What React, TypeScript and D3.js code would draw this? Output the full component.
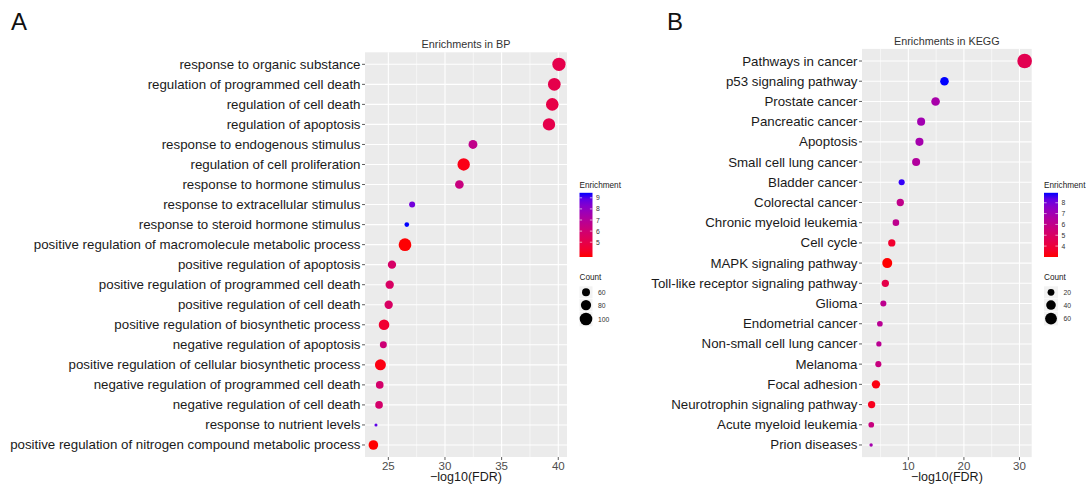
import React from "react";
import * as d3 from "d3";

// ---------- Data: panel A (GO BP) ----------
const bpTerms = [
  "response to organic substance",
  "regulation of programmed cell death",
  "regulation of cell death",
  "regulation of apoptosis",
  "response to endogenous stimulus",
  "regulation of cell proliferation",
  "response to hormone stimulus",
  "response to extracellular stimulus",
  "response to steroid hormone stimulus",
  "positive regulation of macromolecule metabolic process",
  "positive regulation of apoptosis",
  "positive regulation of programmed cell death",
  "positive regulation of cell death",
  "positive regulation of biosynthetic process",
  "negative regulation of apoptosis",
  "positive regulation of cellular biosynthetic process",
  "negative regulation of programmed cell death",
  "negative regulation of cell death",
  "response to nutrient levels",
  "positive regulation of nitrogen compound metabolic process",
];
const bpLog10FDR = [40.06, 39.65, 39.47, 39.18, 32.47, 31.65, 31.27, 27.1, 26.63, 26.47, 25.32, 25.12, 25.03, 24.62, 24.56, 24.3, 24.24, 24.18, 23.91, 23.68];
const bpCount = [106, 101, 100, 98, 68, 98, 66, 43, 31, 101, 63, 63, 63, 83, 51, 86, 57, 57, 17, 74];
const bpEnrichment = [5.0, 5.0, 4.9, 5.0, 6.6, 3.9, 6.3, 8.6, 9.45, 3.7, 5.7, 5.6, 5.6, 4.4, 6.1, 3.85, 5.8, 5.8, 8.9, 3.67];
const bpXTicks = [25, 30, 35, 40];
const bpEnrichBreaks = [5, 6, 7, 8, 9];
const bpCountBreaks = [60, 80, 100];

// ---------- Data: panel B (KEGG) ----------
const keggTerms = [
  "Pathways in cancer",
  "p53 signaling pathway",
  "Prostate cancer",
  "Pancreatic cancer",
  "Apoptosis",
  "Small cell lung cancer",
  "Bladder cancer",
  "Colorectal cancer",
  "Chronic myeloid leukemia",
  "Cell cycle",
  "MAPK signaling pathway",
  "Toll-like receptor signaling pathway",
  "Glioma",
  "Endometrial cancer",
  "Non-small cell lung cancer",
  "Melanoma",
  "Focal adhesion",
  "Neurotrophin signaling pathway",
  "Acute myeloid leukemia",
  "Prion diseases",
];
const keggLog10FDR = [30.93, 16.5, 14.9, 12.3, 12.0, 11.4, 8.8, 8.55, 7.76, 7.02, 6.2, 5.86, 5.5, 4.88, 4.7, 4.6, 4.17, 3.39, 3.33, 3.3];
const keggCount = [92, 32, 32, 28, 28, 28, 16, 23, 19, 23, 43, 23, 16, 14, 12, 16, 30, 23, 14, 5];
const keggEnrichment = [4.5, 8.92, 6.8, 7.0, 6.9, 6.5, 8.75, 6.0, 6.1, 3.7, 2.99, 4.35, 6.1, 6.25, 6.2, 5.7, 3.15, 3.35, 5.7, 6.9];
const keggXTicks = [10, 20, 30];
const keggEnrichBreaks = [4, 5, 6, 7, 8];
const keggCountBreaks = [20, 40, 60];

const FONT = "'Liberation Sans', Arial, Helvetica, sans-serif";

type PanelCfg = {
  id: string;
  letter: string;
  letterX: number;
  title: string;
  titleY: number;
  terms: string[];
  xs: number[];
  counts: number[];
  enrich: number[];
  xTicks: number[];
  enrichBreaks: number[];
  countBreaks: number[];
  left: number;
  right: number;
  top: number;
  bottom: number;
  xDomain: [number, number];
  enrichDomain: [number, number];
  size: (c: number) => number;
  legX: number;
  barW: number;
};

function Panel({ cfg }: { cfg: PanelCfg }) {
  const x = d3.scaleLinear().domain(cfg.xDomain).range([cfg.left, cfg.right]);
  const y = d3
    .scalePoint<string>()
    .domain(cfg.terms)
    .range([cfg.top, cfg.bottom])
    .padding(0.6);
  const color = d3
    .scaleLinear<string>()
    .domain(cfg.enrichDomain)
    .range(["red", "blue"])
    .interpolate(d3.interpolateLab);

  const majors = cfg.xTicks;
  const minors: number[] = [];
  for (let i = 0; i < majors.length - 1; i++) minors.push((majors[i] + majors[i + 1]) / 2);
  const step = majors[1] - majors[0];
  const lo = majors[0] - step / 2;
  const hi = majors[majors.length - 1] + step / 2;
  if (lo > cfg.xDomain[0]) minors.unshift(lo);
  if (hi < cfg.xDomain[1]) minors.push(hi);

  // legend geometry
  const barTop = 192.8;
  const barBottom = 257;
  const eScale = d3.scaleLinear().domain(cfg.enrichDomain).range([barBottom, barTop]);
  const gradStops = d3.range(0, 1.0001, 0.1);
  const gid = `grad-${cfg.id}`;

  // count keys
  let ky = 286;
  const keys = cfg.countBreaks.map((c) => {
    const r = cfg.size(c);
    const h = Math.max(12.7, 2 * r + 2.5);
    const k = { c, r, cy: ky + h / 2, y0: ky, h };
    ky += h;
    return k;
  });

  const order = cfg.terms.map((_, i) => i);

  return (
    <g>
      <text x={cfg.letterX} y={30} fontSize={24} fontFamily={FONT} fill="#111">
        {cfg.letter}
      </text>
      <text
        x={(cfg.left + cfg.right) / 2}
        y={cfg.titleY}
        textAnchor="middle"
        dominantBaseline="central"
        fontSize={10.8}
        fontFamily={FONT}
        fill="#333"
      >
        {cfg.title}
      </text>
      <rect x={cfg.left} y={cfg.top} width={cfg.right - cfg.left} height={cfg.bottom - cfg.top} fill="#ebebeb" />
      {minors.map((m) => (
        <line key={"mn" + m} x1={x(m)} x2={x(m)} y1={cfg.top} y2={cfg.bottom} stroke="#fff" strokeWidth={0.55} />
      ))}
      {majors.map((m) => (
        <line key={"mj" + m} x1={x(m)} x2={x(m)} y1={cfg.top} y2={cfg.bottom} stroke="#fff" strokeWidth={1.1} />
      ))}
      {cfg.terms.map((t) => (
        <line key={"h" + t} x1={cfg.left} x2={cfg.right} y1={y(t)} y2={y(t)} stroke="#fff" strokeWidth={1.1} />
      ))}
      {order.map((i) => (
        <circle
          key={"p" + i}
          cx={x(cfg.xs[i])}
          cy={y(cfg.terms[i])}
          r={Math.max(1.4, cfg.size(cfg.counts[i]))}
          fill={color(cfg.enrich[i])}
        />
      ))}
      {/* y axis */}
      {cfg.terms.map((t) => (
        <g key={"yl" + t}>
          <line x1={cfg.left - 3} x2={cfg.left} y1={y(t)} y2={y(t)} stroke="#333" strokeWidth={0.8} />
          <text
            x={cfg.left - 4.5}
            y={y(t)}
            textAnchor="end"
            dominantBaseline="central"
            fontSize={13.3}
            fontFamily={FONT}
            fill="#1a1a1a"
          >
            {t}
          </text>
        </g>
      ))}
      {/* x axis */}
      {majors.map((m) => (
        <g key={"xt" + m}>
          <line x1={x(m)} x2={x(m)} y1={cfg.bottom} y2={cfg.bottom + 3} stroke="#333" strokeWidth={0.8} />
          <text
            x={x(m)}
            y={cfg.bottom + 8.5}
            textAnchor="middle"
            dominantBaseline="central"
            fontSize={11.5}
            fontFamily={FONT}
            fill="#4d4d4d"
          >
            {m}
          </text>
        </g>
      ))}
      <text
        x={(cfg.left + cfg.right) / 2}
        y={476.5}
        textAnchor="middle"
        dominantBaseline="central"
        fontSize={12.5}
        fontFamily={FONT}
        fill="#1a1a1a"
      >
        −log10(FDR)
      </text>

      {/* colour legend */}
      <defs>
        <linearGradient id={gid} x1="0" y1="1" x2="0" y2="0">
          {gradStops.map((s) => (
            <stop
              key={s}
              offset={s}
              stopColor={color(cfg.enrichDomain[0] + s * (cfg.enrichDomain[1] - cfg.enrichDomain[0]))}
            />
          ))}
        </linearGradient>
      </defs>
      <text x={cfg.legX} y={185.5} dominantBaseline="central" fontSize={8.2} fontFamily={FONT} fill="#222">
        Enrichment
      </text>
      <rect x={cfg.legX} y={barTop} width={cfg.barW} height={barBottom - barTop} fill={`url(#${gid})`} />
      {cfg.enrichBreaks.map((b) => (
        <g key={"eb" + b}>
          <line x1={cfg.legX} x2={cfg.legX + 2.6} y1={eScale(b)} y2={eScale(b)} stroke="#fff" strokeWidth={0.6} />
          <line
            x1={cfg.legX + cfg.barW - 2.6}
            x2={cfg.legX + cfg.barW}
            y1={eScale(b)}
            y2={eScale(b)}
            stroke="#fff"
            strokeWidth={0.6}
          />
          <text
            x={cfg.legX + cfg.barW + 3.5}
            y={eScale(b)}
            dominantBaseline="central"
            fontSize={6.8}
            fontFamily={FONT}
            fill="#333"
          >
            {b}
          </text>
        </g>
      ))}
      {/* size legend */}
      <text x={cfg.legX} y={277.5} dominantBaseline="central" fontSize={8.2} fontFamily={FONT} fill="#222">
        Count
      </text>
      {keys.map((k) => (
        <g key={"ck" + k.c}>
          <rect x={cfg.legX} y={k.y0 + 0.3} width={cfg.barW} height={k.h - 0.6} fill="#f2f2f2" />
          <circle cx={cfg.legX + cfg.barW / 2} cy={k.cy} r={k.r} fill="#000" />
          <text
            x={cfg.legX + cfg.barW + 5.5}
            y={k.cy}
            dominantBaseline="central"
            fontSize={6.8}
            fontFamily={FONT}
            fill="#333"
          >
            {k.c}
          </text>
        </g>
      ))}
    </g>
  );
}

export default function App() {
  const sizeA = d3.scaleLinear().domain([60, 100]).range([4, 6.3]);
  const sizeB = d3.scaleSqrt().domain([0, 60]).range([0, 5.9]);

  const panelA: PanelCfg = {
    id: "bp",
    letter: "A",
    letterX: 11,
    title: "Enrichments in BP",
    titleY: 44,
    terms: bpTerms,
    xs: bpLog10FDR,
    counts: bpCount,
    enrich: bpEnrichment,
    xTicks: bpXTicks,
    enrichBreaks: bpEnrichBreaks,
    countBreaks: bpCountBreaks,
    left: 365,
    right: 567,
    top: 52.3,
    bottom: 457,
    xDomain: [22.94, 40.77],
    enrichDomain: [3.67, 9.45],
    size: (c) => sizeA(c),
    legX: 579.5,
    barW: 13,
  };
  const panelB: PanelCfg = {
    id: "kegg",
    letter: "B",
    letterX: 667,
    title: "Enrichments in KEGG",
    titleY: 41,
    terms: keggTerms,
    xs: keggLog10FDR,
    counts: keggCount,
    enrich: keggEnrichment,
    xTicks: keggXTicks,
    enrichBreaks: keggEnrichBreaks,
    countBreaks: keggCountBreaks,
    left: 862,
    right: 1031.7,
    top: 48.9,
    bottom: 457.1,
    xDomain: [1.66, 32.2],
    enrichDomain: [2.99, 8.92],
    size: (c) => sizeB(c),
    legX: 1044,
    barW: 14,
  };

  return (
    <svg
      width={1086}
      height={486}
      style={{ position: "absolute", left: 0, top: 0, display: "block", background: "#fff" }}
    >
      <rect x={0} y={0} width={1086} height={486} fill="#fff" />
      <Panel cfg={panelA} />
      <Panel cfg={panelB} />
    </svg>
  );
}
